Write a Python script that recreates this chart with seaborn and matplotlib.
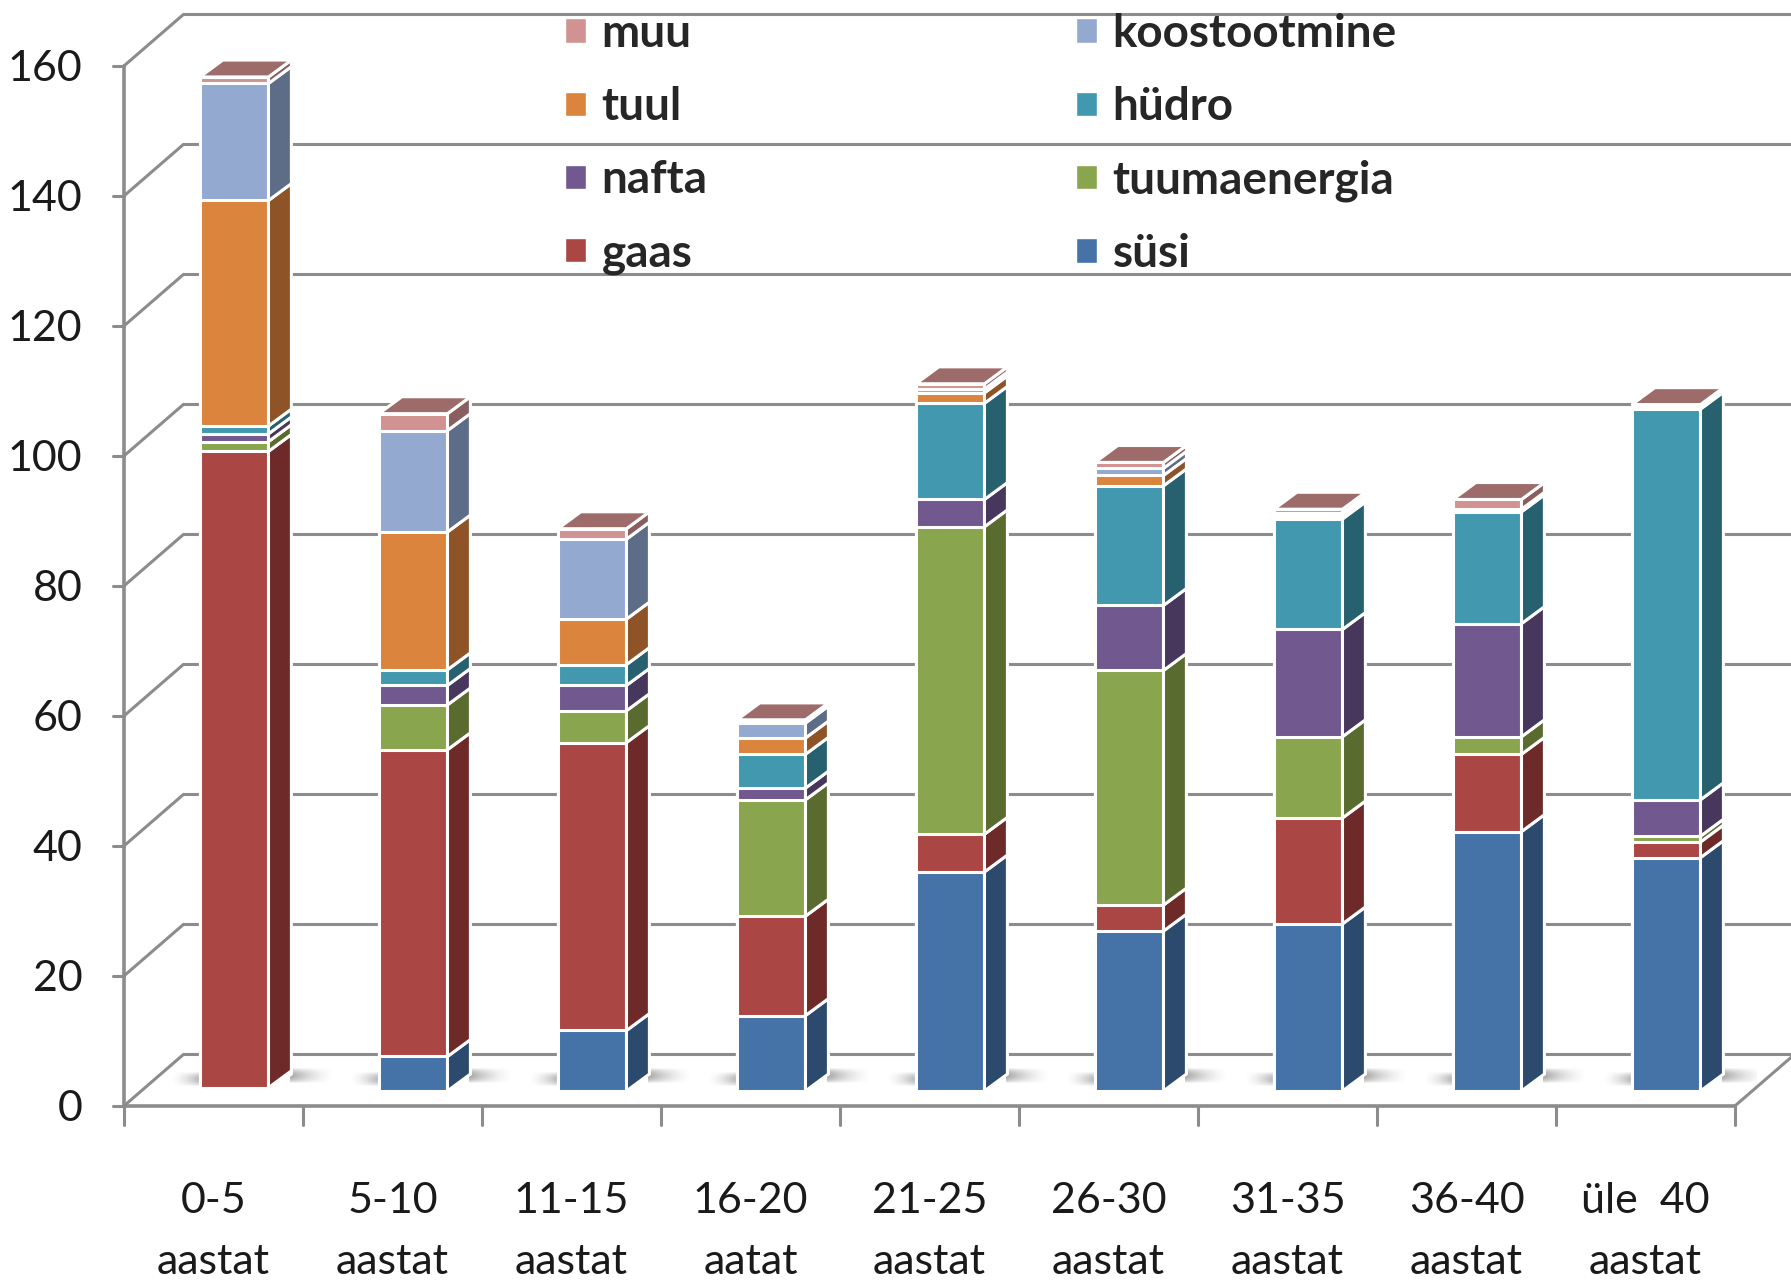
import numpy as np
import matplotlib
matplotlib.use("Agg")
import matplotlib.pyplot as plt
import seaborn as sns
from matplotlib.patches import Patch
from matplotlib.transforms import ScaledTranslation

# categories (age of power plants) and installed capacity per source
vanus = ["0-5\naastat", "5-10\naastat", "11-15\naastat", "16-20\naatat", "21-25\naastat",
         "26-30\naastat", "31-35\naastat", "36-40\naastat", "üle  40\naastat"]

susi = [0.5, 5.3, 9.3, 11.6, 33.7, 24.6, 25.7, 39.9, 35.9]
gaas = [97.9, 47.2, 44.3, 15.3, 5.8, 4.0, 16.3, 11.9, 2.4]
tuumaenergia = [1.5, 6.9, 4.9, 17.9, 47.3, 36.1, 12.5, 2.7, 0.9]
nafta = [1.2, 3.0, 3.9, 1.8, 4.2, 10.0, 16.5, 17.4, 5.6]
hudro = [1.2, 2.4, 3.2, 5.2, 14.8, 18.4, 17.0, 17.2, 60.1]
tuul = [34.7, 21.2, 7.0, 2.5, 1.6, 1.6, 0.4, 0.2, 0.2]
koostootmine = [18.0, 15.6, 12.3, 2.3, 0.6, 1.1, 0.5, 0.2, 0.2]
muu = [1.0, 2.6, 1.6, 0.5, 0.8, 0.9, 0.6, 1.5, 0.3]

names = ["süsi", "gaas", "tuumaenergia", "nafta", "hüdro", "tuul", "koostootmine", "muu"]
series = [susi, gaas, tuumaenergia, nafta, hudro, tuul, koostootmine, muu]
front_col = ["#4572A7", "#AA4643", "#89A54E", "#71588F", "#4198AF", "#DB843D", "#93A9CF", "#D19392"]
side_col = ["#2C4A6E", "#6E2A29", "#5A6B30", "#47375C", "#27616F", "#8E5326", "#5E6D87", "#8A5E5E"]
top_col = "#9E6B6B"

FONT = ["Lato", "DejaVu Sans"]
GRID = "#8C8C8C"

sns.set_theme(style="white")
plt.rcParams["font.family"] = FONT

fig = plt.figure(figsize=(17.91, 12.8), dpi=100)
ax = fig.add_axes([0.0808, 0.1477, 0.8995, 0.8125])

vals = np.array(series)
cum = vals.cumsum(axis=0)
bottoms = cum - vals
W = 0.383                 # bar front width (category units)
SDX, SDY = 0.128, 2.6     # bar depth
FDX, FDY = -0.115, -2.28  # front plane offset
BDX, BDY = 0.217, 5.63    # back wall offset

# back wall + side wall grid
for v in range(0, 161, 20):
    ax.plot([-0.5 + BDX, 8.5 + BDX], [v + BDY, v + BDY], color=GRID, lw=2.2, clip_on=False, zorder=0)
    ax.plot([-0.5 + FDX, -0.5 + BDX], [v + FDY, v + BDY], color=GRID, lw=2.2, clip_on=False, zorder=0)
    ax.plot([-0.56 + FDX, -0.5 + FDX], [v + FDY, v + FDY], color=GRID, lw=2.2, clip_on=False, zorder=0)
ax.plot([-0.5 + FDX, -0.5 + FDX], [FDY, 160 + FDY], color=GRID, lw=2.6, clip_on=False, zorder=0)
ax.plot([-0.5 + FDX, 8.5 + FDX], [FDY, FDY], color=GRID, lw=2.6, clip_on=False, zorder=0)
ax.plot([8.5 + FDX, 8.5 + BDX], [FDY, BDY], color=GRID, lw=2.2, clip_on=False, zorder=0)
for b in np.arange(-0.5, 9, 1):
    ax.plot([b + FDX, b + FDX], [FDY, FDY - 2.9], color=GRID, lw=2.2, clip_on=False, zorder=0)

# soft floor shadows beside each bar (gradient images)
ramp = np.linspace(0, 1, 64) ** 1.6
prof = np.sin(np.pi * (np.arange(16) + 0.5) / 16) ** 0.8
shade_l = np.zeros((16, 64, 4))
shade_l[..., :3] = 0.32
shade_l[..., 3] = 0.45 * prof[:, None] * ramp[None, :]
shade_r = shade_l[:, ::-1, :].copy()
shade_r[..., 3] *= 1.15
for i in range(len(vanus)):
    xl, xr = i - W / 2, i + W / 2 + SDX
    ax.imshow(shade_l, extent=[xl - 0.17, xl, 0.8, 2.9], aspect="auto",
              interpolation="bilinear", zorder=1)
    ax.imshow(shade_r, extent=[xr - 0.01, xr + 0.24, 1.2, 3.5], aspect="auto",
              interpolation="bilinear", zorder=1)

# front faces: stacked by drawing cumulative totals from the top layer down
for k in range(len(names) - 1, -1, -1):
    sns.barplot(x=vanus, y=cum[k], color=front_col[k], saturation=1, width=W,
                edgecolor="white", linewidth=2.2, errorbar=None, ax=ax, zorder=3)

# side and top faces
for i in range(len(vanus)):
    xr = i + W / 2
    xl = i - W / 2
    for k in range(len(names)):
        b, t = bottoms[k, i], cum[k, i]
        ax.fill([xr, xr, xr + SDX, xr + SDX], [b, t, t + SDY, b + SDY],
                facecolor=side_col[k], edgecolor="white", lw=2.2, zorder=3)
    T = cum[-1, i]
    ax.fill([xl, xr, xr + SDX, xl + SDX], [T, T, T + SDY, T + SDY],
            facecolor=top_col, edgecolor="white", lw=2.2, zorder=3)

ax.set_aspect("auto")
ax.set_xlim(-0.5, 8.5)
ax.set_ylim(0, 160)
for s in ax.spines.values():
    s.set_visible(False)
ax.patch.set_visible(False)
ax.set_xlabel("")
ax.set_ylabel("")
ax.set_yticks(range(0, 161, 20))
ax.set_xticks(range(len(vanus)), vanus)
ax.tick_params(axis="y", length=0, pad=30, labelsize=31, labelcolor="#1a1a1a")
ax.tick_params(axis="x", length=0, pad=55, labelsize=31, labelcolor="#1a1a1a")
shift = ScaledTranslation(-0.206, -0.148, fig.dpi_scale_trans)
for lab in ax.get_yticklabels() + ax.get_xticklabels():
    lab.set_transform(lab.get_transform() + shift)
    lab.set_fontfamily(FONT)
for lab in ax.get_xticklabels():
    lab.set_linespacing(1.73)

# legend, two columns
order1 = [7, 5, 3, 1]
order2 = [6, 4, 2, 0]
for order, x0 in [(order1, 565 / 1791), (order2, 1076 / 1791)]:
    handles = [Patch(facecolor=front_col[k], edgecolor="white", lw=1) for k in order]
    fig.legend(handles, [names[k] for k in order], loc="upper left",
               bbox_to_anchor=(x0, 1.0 - 13 / 1280), frameon=False, borderpad=0, borderaxespad=0,
               handlelength=0.45, handleheight=0.45, handletextpad=0.35, labelspacing=0.68,
               prop=dict(family=FONT, weight="bold", size=33))

fig.savefig("out.png", dpi=100)
